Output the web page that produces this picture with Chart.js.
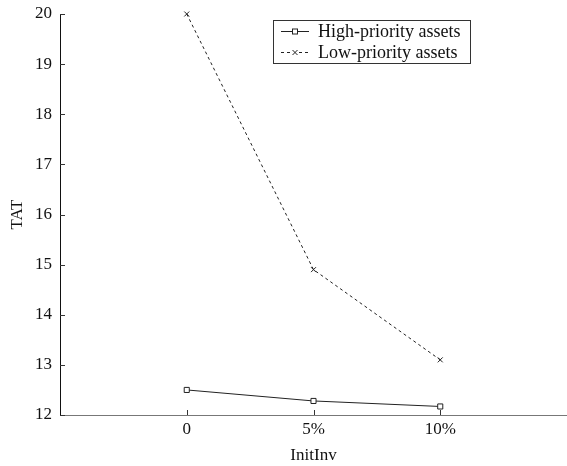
<!DOCTYPE html>
<html>
<head>
<meta charset="utf-8">
<script src="https://cdn.jsdelivr.net/npm/chart.js@4/dist/chart.umd.min.js"></script>
<style>
  html, body { margin: 0; padding: 0; background: #fff; overflow: hidden; }
  canvas { display: block; }
</style>
</head>
<body>
<canvas id="c" width="567" height="466"></canvas>
<script>
// Initial inventory levels on the x axis
const categories = ['0', '5%', '10%'];
// Turnaround time per asset priority class
const highPriority = [12.5, 12.28, 12.17];
const lowPriority = [20, 14.9, 13.1];
const seriesNames = ['High-priority assets', 'Low-priority assets'];
const yTicks = [12, 13, 14, 15, 16, 17, 18, 19, 20];

const serif = "'Liberation Serif', 'Times New Roman', serif";

const toPoints = vals => vals.map((v, i) => ({ x: i, y: v }));

// Small inward tick marks on both axes
const innerTicks = {
  id: 'innerTicks',
  afterDraw(chart) {
    const { ctx, chartArea } = chart;
    const xs = chart.scales.x, ys = chart.scales.y;
    ctx.save();
    ctx.strokeStyle = '#333';
    ctx.lineWidth = 1;
    ys.ticks.forEach(t => {
      const y = Math.round(ys.getPixelForValue(t.value)) + 0.5;
      ctx.beginPath();
      ctx.moveTo(chartArea.left, y);
      ctx.lineTo(chartArea.left + 5, y);
      ctx.stroke();
    });
    xs.ticks.forEach(t => {
      const x = Math.round(xs.getPixelForValue(t.value)) + 0.5;
      ctx.beginPath();
      ctx.moveTo(x, chartArea.bottom);
      ctx.lineTo(x, chartArea.bottom - 5);
      ctx.stroke();
    });
    ctx.restore();
  }
};

// Boxed legend in the upper right, built from the datasets
const boxLegend = {
  id: 'boxLegend',
  afterDraw(chart) {
    const { ctx } = chart;
    const left = 273.5, top = 20.5, w = 197, h = 43;
    ctx.save();
    ctx.fillStyle = '#fff';
    ctx.fillRect(left, top, w, h);
    ctx.strokeStyle = '#333';
    ctx.lineWidth = 1;
    ctx.strokeRect(left, top, w, h);
    ctx.font = '18px ' + serif;
    ctx.textBaseline = 'middle';
    ctx.fillStyle = '#111';
    chart.data.datasets.forEach((ds, i) => {
      const y = Math.round(top + 10 + i * 21) + 0.5;
      ctx.strokeStyle = ds.borderColor;
      ctx.lineWidth = 1;
      ctx.setLineDash(ds.borderDash || []);
      ctx.beginPath();
      ctx.moveTo(281, y);
      ctx.lineTo(309, y);
      ctx.stroke();
      ctx.setLineDash([]);
      const cx = 295;
      if (ds.pointStyle === 'rect') {
        ctx.fillStyle = '#fff';
        ctx.fillRect(cx - 2.5, y - 2.5, 5, 5);
        ctx.strokeRect(cx - 2.5, y - 2.5, 5, 5);
      } else {
        ctx.fillStyle = '#fff';
        ctx.fillRect(cx - 3, y - 3, 6, 6);
        ctx.beginPath();
        ctx.moveTo(cx - 2.5, y - 2.5); ctx.lineTo(cx + 2.5, y + 2.5);
        ctx.moveTo(cx + 2.5, y - 2.5); ctx.lineTo(cx - 2.5, y + 2.5);
        ctx.stroke();
      }
      ctx.fillStyle = '#111';
      ctx.fillText(ds.label, 318, y + 1);
    });
    ctx.restore();
  }
};

new Chart(document.getElementById('c'), {
  type: 'line',
  data: {
    datasets: [
      {
        label: seriesNames[0],
        data: toPoints(highPriority),
        borderColor: '#222',
        borderWidth: 1,
        pointStyle: 'rect',
        pointRadius: 3.6,
        pointBorderWidth: 1,
        pointBackgroundColor: '#fff',
        pointBorderColor: '#222',
        tension: 0,
        clip: false
      },
      {
        label: seriesNames[1],
        data: toPoints(lowPriority),
        borderColor: '#222',
        borderWidth: 1,
        borderDash: [3, 3],
        pointStyle: 'crossRot',
        pointRadius: 3.5,
        pointBorderWidth: 1,
        pointBorderColor: '#222',
        tension: 0,
        clip: false
      }
    ]
  },
  options: {
    responsive: false,
    animation: false,
    layout: { autoPadding: false, padding: { top: 14, right: 0, left: 0, bottom: 0 } },
    plugins: { legend: { display: false }, tooltip: { enabled: false } },
    scales: {
      x: {
        type: 'linear',
        min: -1,
        max: 3,
        afterBuildTicks: s => { s.ticks = categories.map((_, i) => ({ value: i })); },
        afterFit: s => { s.height = 51; s.paddingLeft = 0; s.paddingRight = 0; },
        grid: { display: true, drawOnChartArea: false, drawTicks: false, color: '#777' },
        border: { display: true, color: '#777', width: 1 },
        ticks: {
          padding: 4,
          color: '#111',
          font: { family: serif, size: 17 },
          callback: v => categories[v]
        },
        title: {
          display: true,
          text: 'InitInv',
          color: '#111',
          font: { family: serif, size: 17 },
          padding: { top: 0, bottom: 0 }
        }
      },
      y: {
        min: 12,
        max: 20,
        afterBuildTicks: s => { s.ticks = yTicks.map(v => ({ value: v })); },
        afterFit: s => { s.width = 60; s.paddingTop = 0; s.paddingBottom = 0; s.paddingLeft = 0; s.paddingRight = 0; },
        grid: { display: true, drawOnChartArea: false, drawTicks: false, color: '#111' },
        border: { display: true, color: '#111', width: 1 },
        ticks: {
          padding: 8,
          color: '#111',
          font: { family: serif, size: 17 }
        },
        title: {
          display: true,
          text: 'TAT',
          color: '#111',
          font: { family: serif, size: 17 },
          padding: { top: 7, bottom: 0 }
        }
      }
    }
  },
  plugins: [innerTicks, boxLegend]
});
</script>
</body>
</html>
